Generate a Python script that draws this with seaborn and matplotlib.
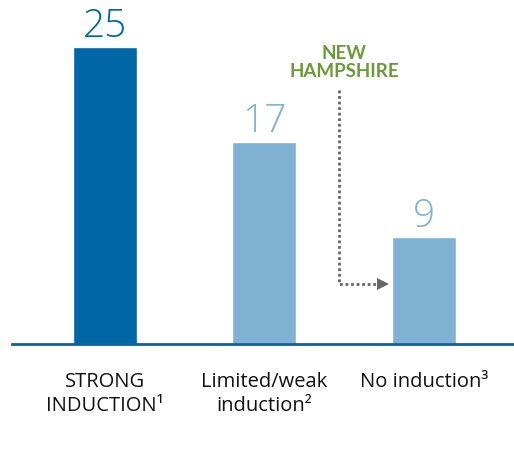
import matplotlib
matplotlib.use("Agg")
import matplotlib.pyplot as plt
import seaborn as sns
import pandas as pd

categories = ["STRONG\nINDUCTION¹", "Limited/weak\ninduction²", "No induction³"]
values = [25, 17, 9]
bar_colors = ["#0066a6", "#7fb2d3", "#7fb2d3"]
callout_text = "NEW\nHAMPSHIRE"

sns.set_theme(style="white")
plt.rcParams["font.family"] = ["Open Sans", "DejaVu Sans"]

df = pd.DataFrame({"category": categories, "value": values})

fig = plt.figure(figsize=(5.14, 4.55), dpi=100)
ax = fig.add_axes([12 / 514, 111 / 455, 1 - 12 / 514, 344 / 455])

sns.barplot(data=df, x="category", y="value", hue="category",
            palette=bar_colors, legend=False, width=0.4, ax=ax,
            saturation=1)

ax.set_xlim(-0.582, 2.565)
ax.set_ylim(0, 25 * 344 / 297)

# value labels above each bar
for i, (v, c) in enumerate(zip(values, bar_colors)):
    ax.text(i, v + 0.85, str(v), ha="center", va="baseline",
            fontsize=28, color=c, fontweight="light")

# baseline axis only
for side in ["left", "right", "top"]:
    ax.spines[side].set_visible(False)
ax.spines["bottom"].set_color("#0066a6")
ax.spines["bottom"].set_linewidth(2)
ax.set_yticks([])
ax.set_xlabel("")
ax.set_ylabel("")
ax.tick_params(axis="x", length=0, pad=20, labelsize=14.5, labelcolor="#111111")
for lab in ax.get_xticklabels():
    lab.set_linespacing(1.25)

# callout pointing to the "no induction" bar
ax.text(1.50, 22.2, callout_text, ha="center", va="bottom",
        fontsize=13.5, fontweight="bold", color="#6a9a3a", linespacing=1.12,
        family=["Lato", "DejaVu Sans"])
ax.plot([1.467, 1.467, 1.70], [21.4, 5.05, 5.05], color="#666666",
        lw=2, linestyle=(0, (1, 1)))
ax.plot([1.745], [5.05], marker=">", markersize=9, color="#666666",
        markeredgewidth=0)

fig.savefig("out.png", dpi=100)
